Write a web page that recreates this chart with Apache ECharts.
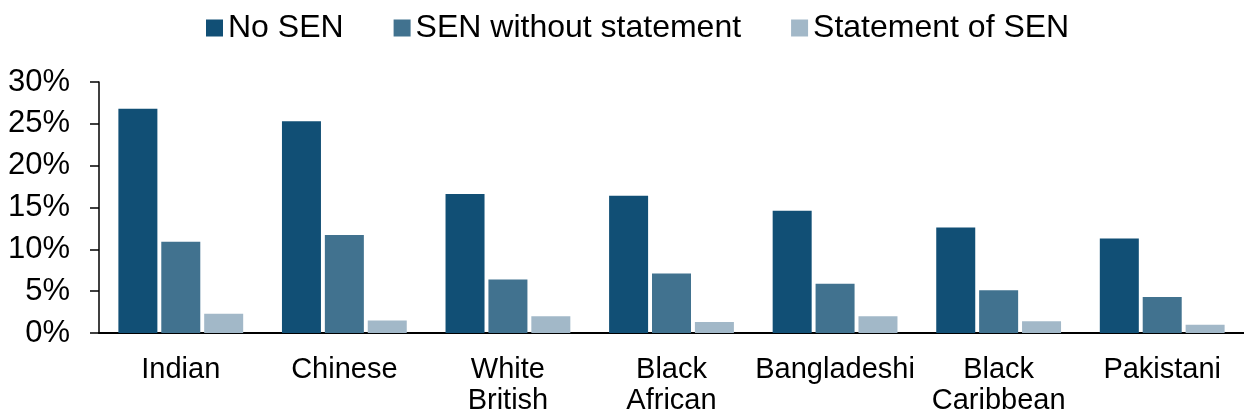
<!DOCTYPE html>
<html>
<head>
<meta charset="utf-8">
<script src="https://cdn.jsdelivr.net/npm/echarts@6/dist/echarts.min.js"></script>
<style>
  html, body { margin: 0; padding: 0; background: #fff; }
  #chart { width: 1244px; height: 416px; }
</style>
</head>
<body>
<div id="chart"></div>
<script>
// Ethnic groups along the x axis
const categories = ['Indian', 'Chinese', 'White\nBritish', 'Black\nAfrican', 'Bangladeshi', 'Black\nCaribbean', 'Pakistani'];

// Share of pupils (%) in each SEN group
const noSen = [26.8, 25.3, 16.6, 16.4, 14.6, 12.6, 11.3];
const senWithoutStatement = [10.9, 11.7, 6.4, 7.1, 5.9, 5.1, 4.3];
const statementOfSen = [2.3, 1.5, 2.0, 1.3, 2.0, 1.4, 1.0];

const seriesNames = ['No SEN', 'SEN without statement', 'Statement of SEN'];
const colors = ['#114f75', '#41728f', '#a2b8c8'];

const yTicks = { min: 0, max: 30, interval: 5 };

const FONT = 'Liberation Sans, Arial, sans-serif';

const chart = echarts.init(document.getElementById('chart'), null, { renderer: 'canvas' });

const makeSeries = (name, data, color) => ({
  name: name,
  type: 'bar',
  data: data,
  barWidth: 39,
  barGap: '10%',
  itemStyle: { color: color },
  emphasis: { disabled: true }
});

chart.setOption({
  animation: false,
  color: colors,
  textStyle: { fontFamily: FONT, color: '#000' },
  legend: {
    left: 201,
    top: 7,
    icon: 'rect',
    itemWidth: 17,
    itemHeight: 17,
    itemGap: 50,
    textStyle: { fontSize: 32, color: '#000', fontFamily: FONT },
    data: seriesNames
  },
  grid: { left: 99, right: 0, top: 82, bottom: 81, containLabel: false },
  xAxis: {
    type: 'category',
    data: categories,
    axisLine: { show: true, lineStyle: { color: '#000', width: 2 } },
    axisTick: { show: false },
    axisLabel: {
      fontSize: 29,
      lineHeight: 31,
      margin: 21,
      color: '#000',
      fontFamily: FONT,
      interval: 0
    }
  },
  yAxis: {
    type: 'value',
    min: yTicks.min,
    max: yTicks.max,
    interval: yTicks.interval,
    splitLine: { show: false },
    axisLine: { show: true, lineStyle: { color: '#000', width: 1.5 } },
    axisTick: { show: true, length: 9, lineStyle: { color: '#000', width: 1.5 } },
    axisLabel: {
      fontSize: 31,
      margin: 29,
      color: '#000',
      fontFamily: FONT,
      formatter: v => v + '%'
    }
  },
  series: [
    makeSeries(seriesNames[0], noSen, colors[0]),
    makeSeries(seriesNames[1], senWithoutStatement, colors[1]),
    makeSeries(seriesNames[2], statementOfSen, colors[2])
  ]
});
</script>
</body>
</html>
